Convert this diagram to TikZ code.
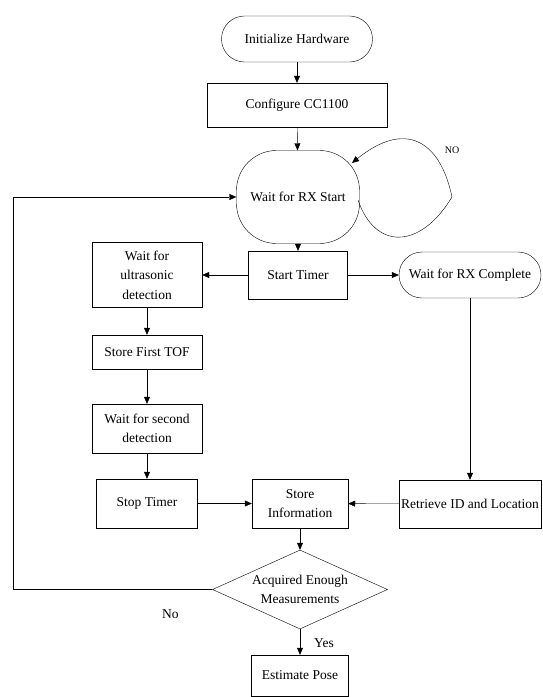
\documentclass[tikz,border=0pt]{standalone}
\usepackage{fontspec}
\setmainfont{Liberation Serif}
\usetikzlibrary{arrows.meta, positioning, shapes.misc, shapes.geometric}
\tikzset{
  >={Triangle[length=7pt, width=6pt]}, % filled arrow heads
  every node/.style={font=\fontsize{13.5}{19.5}\selectfont, align=center,
  inner sep=0pt}, % text of every box
  line width=0.7pt,
}

\begin{document}
\begin{tikzpicture}[x=1pt, y=-1pt,
    block/.style = {draw, rectangle},
    terminal/.style = {draw, rectangle, rounded corners=23pt},
    waitbox/.style = {draw, rectangle, rounded corners=40pt},
    decision/.style = {draw, diamond, aspect=2.2, minimum width=175pt,
    minimum height=79pt},
    tag/.style = {font=\fontsize{10}{12}\selectfont}]
    \useasboundingbox (0,0) rectangle (542,697);

    \node[terminal, minimum width=151pt, minimum height=46pt] (init) at
    (297,39) {Initialize Hardware};
    \node[block, minimum width=180pt, minimum height=44pt] (config) at
    (297,105) {Configure CC1100};
    \node[waitbox, minimum width=123pt, minimum height=93pt] (rxstart) at
    (298,197) {Wait for RX Start};
    \node[block, minimum width=99pt, minimum height=48pt] (starttimer) at
    (298,275) {Start Timer};
    \node[terminal, minimum width=142pt, minimum height=46pt] (rxcomplete)
    at (470,275) {Wait for RX Complete};

    \node[block, minimum width=110pt, minimum height=65pt] (ultra) at
    (147,275) {Wait for\\ultrasonic\\detection};
    \node[block, minimum width=110pt, minimum height=34pt] (tof) at
    (147,352) {Store First TOF};
    \node[block, minimum width=110pt, minimum height=49pt] (second) at
    (147,428.5) {Wait for second\\detection};
    \node[block, minimum width=101pt, minimum height=49pt] (stoptimer) at
    (147,503.5) {Stop Timer};
    \node[block, minimum width=96pt, minimum height=49pt] (store) at
    (300,503.5) {Store\\Information};
    \node[block, minimum width=142pt, minimum height=48pt] (retrieve) at
    (470,504) {Retrieve ID and Location};
    \node[decision] (decide) at (300,589.5) {Acquired Enough\\Measurements};
    \node[block, minimum width=97pt, minimum height=41pt] (pose) at
    (300,675.5) {Estimate Pose};

    \coordinate (back) at (13,589.5);
    \coordinate (loopout) at (358,200);
    \coordinate (loopin) at (352,163);
    \node[tag] (nolabel) at (452,150) {NO};

    \draw[->]
    (init) edge (config)
    (config) edge (rxstart)
    (rxstart) edge (starttimer)
    (starttimer) edge (rxcomplete)
    (starttimer) edge (ultra)
    (ultra) edge (tof)
    (tof) edge (second)
    (second) edge (stoptimer)
    (stoptimer) edge (store)
    (rxcomplete) edge (retrieve)
    (retrieve) edge (store)
    (store) edge (decide)
    (decide) edge node[pos=0.55, right=14pt] {Yes} (pose)
    ;

    % waiting loop of the receiver
    \draw[->] (loopout) .. controls (375,250) and (420,250) .. (452,197)
    .. controls (440,140) and (405,120) .. (loopin);

    % not enough measurements: back to the start
    \draw[->] (decide.west) -- (back) node[pos=0.21, below=20pt] {No}
    |- (rxstart.west);
  \end{tikzpicture}
\end{document}
